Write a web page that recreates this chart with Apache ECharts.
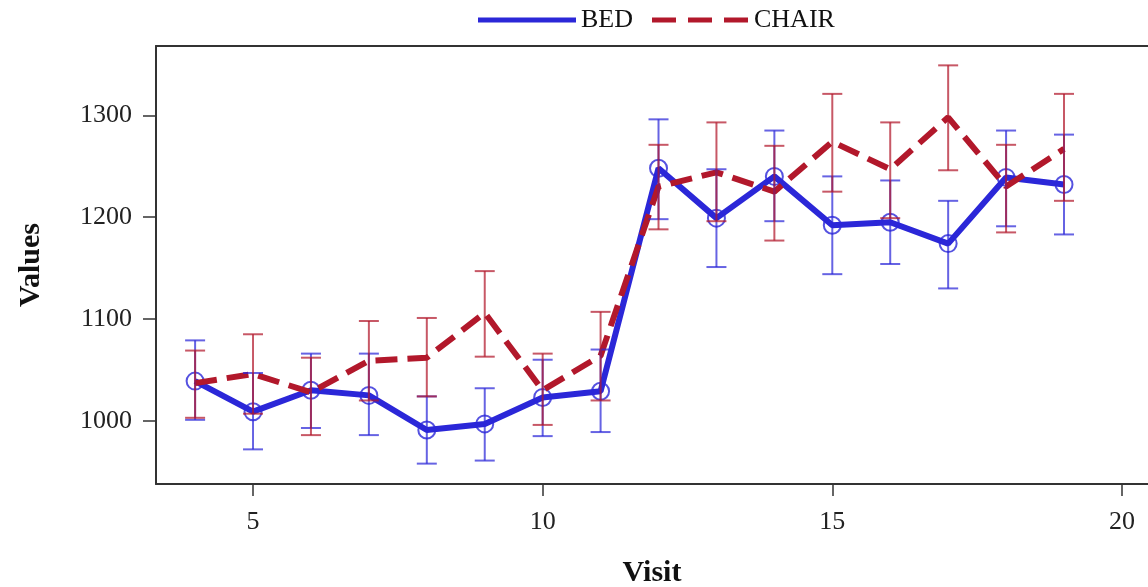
<!DOCTYPE html>
<html>
<head>
<meta charset="utf-8">
<script src="https://cdn.jsdelivr.net/npm/echarts@6/dist/echarts.min.js"></script>
<style>
  html, body { margin: 0; padding: 0; background: #fff; }
  #chart { width: 1148px; height: 587px; }
</style>
</head>
<body>
<div id="chart"></div>
<script>
// data
const visits = [4, 5, 6, 7, 8, 9, 10, 11, 12, 13, 14, 15, 16, 17, 18, 19];
const bedMean = [1039, 1009, 1030, 1025, 991, 997, 1023, 1029, 1248, 1199, 1240, 1192, 1195, 1174, 1239, 1232];
const bedLow = [1001, 972, 993, 986, 958, 961, 985, 989, 1198, 1151, 1196, 1144, 1154, 1130, 1191, 1183];
const bedHigh = [1079, 1047, 1066, 1066, 1024, 1032, 1060, 1070, 1296, 1247, 1285, 1240, 1236, 1216, 1285, 1281];
const chairMean = [1037, 1046, 1028, 1059, 1062, 1106, 1030, 1064, 1230, 1244, 1225, 1274, 1247, 1298, 1230, 1267];
const chairLow = [1003, 1007, 986, 1020, 1024, 1063, 996, 1020, 1188, 1196, 1177, 1225, 1199, 1246, 1185, 1216];
const chairHigh = [1069, 1085, 1062, 1098, 1101, 1147, 1066, 1107, 1271, 1293, 1270, 1321, 1293, 1349, 1271, 1321];
const xTicks = [5, 10, 15, 20];
const yTicks = [1000, 1100, 1200, 1300];

const blue = '#2b27d8';
const red = '#b2182b';
const font = 'Liberation Serif';

const chart = echarts.init(document.getElementById('chart'));

// 误差线: vertical bar + two caps
function errorBar(color) {
  return function (params, api) {
    const x = api.value(0);
    const hi = api.coord([x, api.value(2)]);
    const lo = api.coord([x, api.value(1)]);
    const w = 10;
    const style = { stroke: color, lineWidth: 2, opacity: 0.72 };
    return {
      type: 'group',
      children: [
        { type: 'line', shape: { x1: hi[0], y1: hi[1], x2: lo[0], y2: lo[1] }, style: style },
        { type: 'line', shape: { x1: hi[0] - w, y1: hi[1], x2: hi[0] + w, y2: hi[1] }, style: style },
        { type: 'line', shape: { x1: lo[0] - w, y1: lo[1], x2: lo[0] + w, y2: lo[1] }, style: style }
      ]
    };
  };
}

chart.setOption({
  animation: false,
  textStyle: { fontFamily: font },
  legend: {
    top: 2,
    left: 473,
    itemWidth: 98,
    itemHeight: 5,
    itemGap: 19,
    data: [
      { name: 'BED', icon: 'rect', itemStyle: { color: blue } },
      { name: 'CHAIR', icon: 'path://M0,0h24v5h-24z M36,0h24v5h-24z M72,0h24v5h-24z', itemStyle: { color: red } }
    ],
    textStyle: { fontFamily: font, fontSize: 26, color: '#111' }
  },
  grid: {
    left: 156,
    top: 46,
    right: 0,
    height: 438,
    outerBoundsMode: 'none'
  },
  xAxis: [
    {
      type: 'value',
      min: 3.325,
      max: 20.45,
      name: 'Visit',
      nameLocation: 'middle',
      nameGap: 74,
      nameTextStyle: { fontFamily: font, fontSize: 30, fontWeight: 'bold', color: '#111' },
      axisLine: { lineStyle: { color: '#333', width: 2 } },
      axisTick: { length: 12, customValues: xTicks, lineStyle: { color: '#333', width: 1.5 } },
      axisLabel: { customValues: xTicks, margin: 25, fontFamily: font, fontSize: 26, color: '#222' },
      splitLine: { show: false }
    },
    {
      // top frame line only
      type: 'value',
      position: 'top',
      min: 3.325,
      max: 20.45,
      axisLine: { show: true, onZero: false, lineStyle: { color: '#333', width: 2 } },
      axisTick: { show: false },
      axisLabel: { show: false },
      splitLine: { show: false }
    }
  ],
  yAxis: {
    type: 'value',
    min: 938,
    max: 1368,
    name: 'Values',
    nameLocation: 'middle',
    nameGap: 110,
    nameTextStyle: { fontFamily: font, fontSize: 30, fontWeight: 'bold', color: '#111' },
    axisLine: { show: true, lineStyle: { color: '#333', width: 2 } },
    axisTick: { show: true, length: 13, customValues: yTicks, lineStyle: { color: '#333', width: 1.5 } },
    axisLabel: { customValues: yTicks, margin: 24, fontFamily: font, fontSize: 26, color: '#222', formatter: v => String(v) },
    splitLine: { show: false }
  },
  series: [
    {
      name: 'BED',
      type: 'line',
      data: visits.map((v, i) => [v, bedMean[i]]),
      symbol: 'none',
      lineStyle: { color: blue, width: 6 },
      itemStyle: { color: blue },
      z: 3
    },
    {
      name: 'bedMarkers',
      type: 'scatter',
      data: visits.map((v, i) => [v, bedMean[i]]),
      symbol: 'circle',
      symbolSize: 17,
      itemStyle: { color: 'rgba(0,0,0,0)', borderColor: blue, borderWidth: 2 },
      z: 4
    },
    {
      name: 'CHAIR',
      type: 'line',
      data: visits.map((v, i) => [v, chairMean[i]]),
      symbol: 'none',
      lineStyle: { color: red, width: 6, type: [22, 10] },
      itemStyle: { color: red },
      z: 5
    },
    {
      name: 'bedErr',
      type: 'custom',
      data: visits.map((v, i) => [v, bedLow[i], bedHigh[i]]),
      renderItem: errorBar(blue),
      z: 6
    },
    {
      name: 'chairErr',
      type: 'custom',
      data: visits.map((v, i) => [v, chairLow[i], chairHigh[i]]),
      renderItem: errorBar(red),
      z: 7
    }
  ]
});

window.onresize = function () {
  chart.resize();
};
</script>
</body>
</html>
